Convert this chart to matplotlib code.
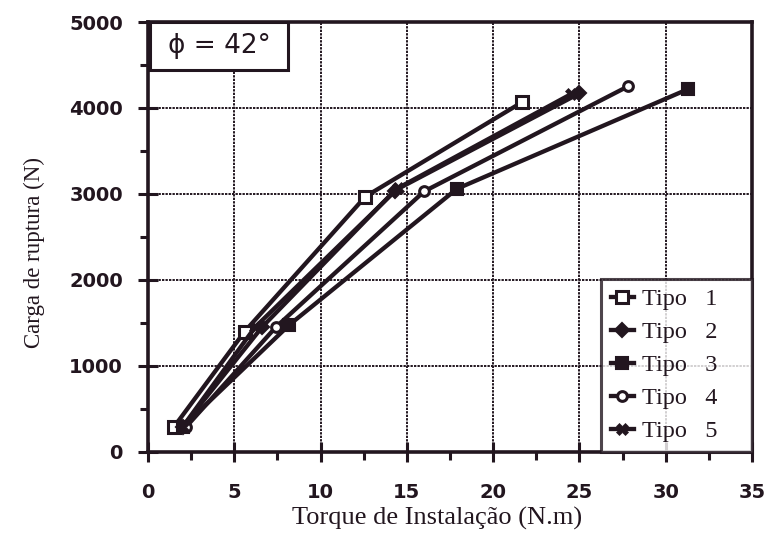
import matplotlib
matplotlib.use("Agg")
import matplotlib.pyplot as plt
from matplotlib.patches import Rectangle
from matplotlib.ticker import MultipleLocator

# Installation torque (N.m) vs. rupture load (N) for five anchor types
tipo1_x = [1.5, 5.6, 12.6, 21.7]
tipo1_y = [290, 1400, 2970, 4070]
tipo2_x = [2.0, 6.6, 14.3, 25.0]
tipo2_y = [290, 1450, 3040, 4170]
tipo3_x = [2.0, 8.2, 17.9, 31.3]
tipo3_y = [290, 1480, 3060, 4220]
tipo4_x = [2.2, 7.4, 16.0, 27.8]
tipo4_y = [290, 1450, 3030, 4250]
tipo5_x = [2.0, 6.2, 14.5, 24.5]
tipo5_y = [290, 1450, 3070, 4160]

labels = ["Tipo   1", "Tipo   2", "Tipo   3", "Tipo   4", "Tipo   5"]

ink = "#22161f"

fig = plt.figure(figsize=(7.66, 5.38), dpi=100)
ax = fig.add_axes([0.1932, 0.1599, 0.7885, 0.7992])

series = [
    (tipo1_x, tipo1_y, dict(marker="s", mfc="white", ms=8, mew=2.2)),
    (tipo2_x, tipo2_y, dict(marker="D", mfc=ink, ms=7, mew=1.5)),
    (tipo3_x, tipo3_y, dict(marker="s", mfc=ink, ms=8, mew=1.5)),
    (tipo4_x, tipo4_y, dict(marker="o", mfc="white", ms=7, mew=2.2)),
    (tipo5_x, tipo5_y, dict(marker="X", mfc=ink, ms=9, mew=0.5)),
]
for (xs, ys, style), lab in zip(series, labels):
    ax.plot(xs, ys, color=ink, lw=3.1, mec=ink, label=lab, zorder=3, **style)

ax.set_xlim(0, 35)
ax.set_ylim(0, 5000)
ax.xaxis.set_major_locator(MultipleLocator(5))
ax.xaxis.set_minor_locator(MultipleLocator(2.5))
ax.yaxis.set_major_locator(MultipleLocator(1000))
ax.yaxis.set_minor_locator(MultipleLocator(500))

ax.grid(True, which="major", color=ink, lw=1.4, ls=(0, (1.2, 0.6)), zorder=1)

for side in ["left", "bottom", "top", "right"]:
    ax.spines[side].set_linewidth(2.6)
    ax.spines[side].set_color(ink)

ax.tick_params(which="major", direction="inout", length=14, width=2.2, color=ink)
ax.tick_params(which="minor", direction="out", length=6, width=2.2, color=ink)
ax.tick_params(axis="x", which="major", pad=15)
ax.tick_params(axis="y", which="major", pad=11)

for lbl in ax.get_xticklabels() + ax.get_yticklabels():
    lbl.set_fontfamily("DejaVu Sans")
    lbl.set_fontweight("bold")
    lbl.set_fontsize(14)
    lbl.set_color(ink)

ax.set_xlabel("Torque de Instalação (N.m)", family="Liberation Serif",
              fontsize=19, color=ink)
ax.xaxis.set_label_coords(0.478, -0.128)
ax.set_ylabel("Carga de ruptura (N)", family="Liberation Serif",
              fontsize=16.5, color=ink)
ax.yaxis.set_label_coords(-0.17, 0.465)

# friction-angle tag in the upper-left corner
ax.add_patch(Rectangle((0.003, 0.888), 0.229, 0.112, transform=ax.transAxes,
                       fc="white", ec=ink, lw=2.2, zorder=5))
ax.text(0.1175, 0.944, "ϕ = 42°", transform=ax.transAxes, family="DejaVu Sans",
        fontsize=19, color=ink, va="center", ha="center", zorder=6)

leg = ax.legend(loc="lower left", bbox_to_anchor=(0.75, 0.0, 0.25, 0.4),
                mode="expand", frameon=True, fancybox=False,
                handlelength=0.95, handletextpad=0.35, labelspacing=0.45,
                borderpad=0.4, borderaxespad=0.0,
                prop=dict(family="Liberation Serif", size=17.5))
leg.get_frame().set_edgecolor(ink)
leg.get_frame().set_linewidth(2.2)
leg.set_zorder(7)
for t in leg.get_texts():
    t.set_color(ink)

fig.savefig("out.png", dpi=100, facecolor="white")
